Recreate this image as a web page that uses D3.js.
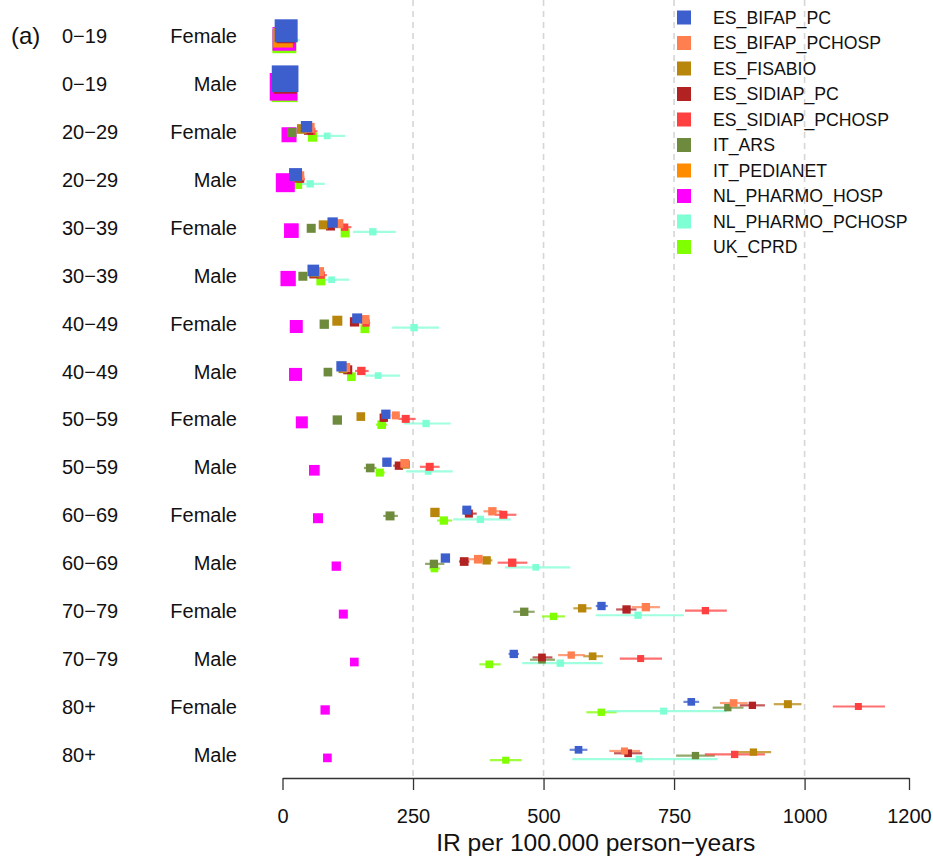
<!DOCTYPE html>
<html>
<head>
<meta charset="utf-8">
<script src="https://cdn.jsdelivr.net/npm/d3@7"></script>
<style>
  body { margin: 0; background: #fff; }
  svg text { font-family: "Liberation Sans", Arial, Helvetica, sans-serif; fill: #111; }
</style>
</head>
<body>
<div id="chart"></div>
<script>
// forest-style plot: IR per 100.000 person-years by age group / sex and data source

// row labels
var ageLabels = ["0−19", "0−19", "20−29", "20−29", "30−39", "30−39", "40−49", "40−49",
                 "50−59", "50−59", "60−69", "60−69", "70−79", "70−79", "80+", "80+"];
var sexLabels = ["Female", "Male", "Female", "Male", "Female", "Male", "Female", "Male",
                 "Female", "Male", "Female", "Male", "Female", "Male", "Female", "Male"];

var sources = ["ES_BIFAP_PC", "ES_BIFAP_PCHOSP", "ES_FISABIO", "ES_SIDIAP_PC", "ES_SIDIAP_PCHOSP",
               "IT_ARS", "IT_PEDIANET", "NL_PHARMO_HOSP", "NL_PHARMO_PCHOSP", "UK_CPRD"];

var xTicks = [0, 250, 500, 750, 1000, 1200];

// each entry: [IR, lower CI, upper CI, weight]  (one entry per row, null = no estimate)
var ES_BIFAP_PC = [
  [7, 5, 9, 69], [5, 3.5, 6.5, 80], [46, 42, 50, 34], [25, 22, 28, 39],
  [96, 91, 101, 31], [59, 55, 63, 35], [143, 137, 149, 30], [113, 108, 118, 31],
  [198, 192, 204, 28], [200, 194, 206, 28], [353, 345, 361, 27], [312, 305, 319, 28],
  [611, 600, 623, 25], [443, 433, 453, 25], [783, 768, 798, 23], [567, 550, 584, 23]];

var ES_BIFAP_PCHOSP = [
  [6, 4, 8, 42], [4, 3, 6, 42], [52, 46, 58, 30], [33, 28, 38, 27],
  [108, 100, 116, 27], [71, 65, 77, 27], [158, 150, 166, 27], [121, 114, 128, 27],
  [217, 209, 225, 24], [234, 226, 242, 26], [402, 385, 420, 25], [375, 356, 394, 26],
  [696, 669, 723, 25], [553, 528, 579, 22], [864, 838, 891, 23], [655, 626, 685, 21]];

var ES_FISABIO = [
  [5, 3, 7, 42], [4, 2, 6, 42], [37, 33, 41, 29], [28, 24, 32, 27],
  [78, 72, 84, 27], [62, 57, 67, 27], [105, 99, 111, 30], [116, 110, 122, 27],
  [150, 144, 156, 26], [236, 229, 243, 25], [292, 285, 300, 28], [391, 380, 402, 25],
  [574, 557, 592, 25], [594, 576, 614, 23], [968, 941, 994, 24], [902, 872, 936, 22]];

var ES_SIDIAP_PC = [
  [6, 4, 8, 54], [5.5, 4, 7, 69], [50, 45, 55, 28], [32, 28, 36, 27],
  [92, 86, 98, 27], [60, 55, 65, 27], [138, 131, 145, 28], [125, 119, 131, 27],
  [194, 187, 201, 25], [223, 212, 237, 25], [357, 348, 372, 24], [348, 338, 358, 26],
  [659, 639, 678, 25], [497, 479, 517, 23], [900, 876, 924, 22], [662, 635, 689, 23]];

var ES_SIDIAP_PCHOSP = [
  [8, 5, 11, 36], [6, 4, 8, 36], [56, 50, 67, 22], [35, 29, 43, 21],
  [119, 110, 132, 22], [74, 67, 85, 22], [160, 152, 168, 22], [151, 139, 165, 25],
  [236, 222, 255, 24], [282, 263, 301, 24], [423, 407, 448, 24], [440, 412, 469, 25],
  [810, 771, 851, 22], [686, 646, 727, 21], [1103, 1054, 1154, 21], [866, 809, 924, 22]];

var IT_ARS = [
  [6, 4, 8, 24], [4, 2, 6, 27], [18, 15, 21, 28], null,
  [55, 50, 59, 27], [39, 35, 42, 27], [80, 75, 86, 28], [87, 82, 93, 26],
  [105, 99, 111, 28], [168, 156, 180, 26], [206, 193, 221, 27], [290, 273, 310, 25],
  [463, 442, 483, 25], [497, 474, 522, 23], [853, 824, 883, 22], [791, 754, 828, 22]];

var IT_PEDIANET = [
  [1, 0, 2, 59], [4, 2, 6, 36], null, null, null, null, null, null,
  null, null, null, null, null, null, null, null];

var NL_PHARMO_HOSP = [
  [3.5, 2, 5, 71], [2, 1, 3, 83], [12.5, 10, 15, 45], [5.4, 4, 7, 57],
  [17, 15, 19, 44], [10.8, 9, 13, 46], [26.4, 24, 29, 39], [25, 22, 28, 39],
  [37, 34, 40, 36], [61, 57, 65, 32], [68, 64, 72, 30], [103, 98, 108, 28],
  [116.5, 111, 122, 27], [137.6, 132, 143, 26], [81.7, 77, 86, 28], [86, 81, 91, 26]];

var NL_PHARMO_PCHOSP = [
  [15, 2, 33, 18], [10, 2, 25, 18], [85.5, 66, 120, 20], [53, 35, 81, 22],
  [173, 135, 217, 22], [94, 68, 128, 20], [252, 210, 300, 22], [183, 158, 225, 20],
  [275, 232, 322, 22], [279, 237, 326, 20], [379, 327, 437, 22], [485, 426, 551, 20],
  [681, 600, 769, 22], [532, 459, 613, 22], [730, 621, 851, 21], [683, 555, 833, 20]];

var UK_CPRD = [
  [3.5, 2, 5, 72], [4, 3, 5, 78], [57.5, 53, 62, 28], [30, 26, 34, 24],
  [120, 114, 127, 27], [73.5, 68, 79, 27], [157.7, 150, 165, 26], [132, 126, 138, 26],
  [190, 179, 200, 26], [186.5, 178, 196, 24], [309, 296, 325, 25], [291, 281, 302, 23],
  [519, 497, 541, 22], [396, 377, 418, 23], [610.5, 582, 640, 22], [427.5, 397, 458, 21]];

var sourceValues = [ES_BIFAP_PC, ES_BIFAP_PCHOSP, ES_FISABIO, ES_SIDIAP_PC, ES_SIDIAP_PCHOSP,
                    IT_ARS, IT_PEDIANET, NL_PHARMO_HOSP, NL_PHARMO_PCHOSP, UK_CPRD];

// colours (R named colours)
var palette = ["#3d5fcd", "#ff7f50", "#b8860b", "#b22222", "#ff4040",
               "#6e8b3d", "#ff8c00", "#ff00ff", "#7fffd4", "#7fff00"];

var width = 933, height = 856;
var margin = {top: 36, right: 24, bottom: 101, left: 282.5};

var svg = d3.select("#chart")
  .append("svg")
    .attr("width", width)
    .attr("height", height);

var x = d3.scaleLinear()
  .domain([0, 1200])
  .range([margin.left, width - margin.right]);

var y = d3.scaleLinear()
  .domain([0, ageLabels.length - 1])
  .range([margin.top, height - margin.bottom]);

// small vertical dodge per data source
var dodge = d3.scaleLinear()
  .domain([0, sources.length - 1])
  .range([-5.2, 5.2]);

var size = d3.scaleLinear()
  .domain([0, 90])
  .range([0, 30]);

var color = d3.scaleOrdinal().domain(sources).range(palette);

var axisY = 778;

// dashed reference lines
svg.append("g")
  .selectAll("line")
  .data(xTicks.filter(function(d) { return d > 0 && d < 1200; }))
  .enter()
  .append("line")
    .attr("x1", function(d) { return x(d); })
    .attr("x2", function(d) { return x(d); })
    .attr("y1", 0)
    .attr("y2", axisY)
    .style("stroke", "#d6d6d6")
    .style("stroke-width", 1.6)
    .style("stroke-dasharray", "6,5");

// x axis
var xAxis = svg.append("g")
  .attr("transform", "translate(0," + axisY + ")")
  .call(d3.axisBottom(x).tickValues(xTicks).tickSize(12).tickSizeOuter(0).tickPadding(19)
        .tickFormat(d3.format("d")));
xAxis.select(".domain").style("stroke", "#333").style("stroke-width", 1.3);
xAxis.selectAll(".tick line").style("stroke", "#333").style("stroke-width", 1.3);
xAxis.selectAll(".tick text")
  .style("font-size", "20px")
  .style("font-family", "'Liberation Sans', Arial, sans-serif")
  .attr("fill", "#111");

svg.append("text")
  .attr("x", (x(0) + x(1200)) / 2)
  .attr("y", 851)
  .attr("text-anchor", "middle")
  .style("font-size", "24.6px")
  .text("IR per 100.000 person−years");

// panel tag and row labels
svg.append("text")
  .attr("x", 11)
  .attr("y", y(0) + 8)
  .style("font-size", "24px")
  .text("(a)");

svg.append("g")
  .selectAll("text")
  .data(ageLabels)
  .enter()
  .append("text")
    .attr("x", 62)
    .attr("y", function(d, i) { return y(i) + 7; })
    .style("font-size", "20px")
    .text(function(d) { return d; });

svg.append("g")
  .selectAll("text")
  .data(sexLabels)
  .enter()
  .append("text")
    .attr("x", 237)
    .attr("y", function(d, i) { return y(i) + 7; })
    .attr("text-anchor", "end")
    .style("font-size", "20px")
    .text(function(d) { return d; });

// flatten into points; later sources drawn first so ES_BIFAP_PC ends on top
var points = [];
sourceValues.forEach(function(vals, s) {
  vals.forEach(function(v, r) {
    if (v) points.push({source: sources[s], s: s, row: r, ir: v[0], lo: v[1], hi: v[2], w: v[3]});
  });
});
points.sort(function(a, b) { return b.s - a.s; });

var py = function(d) { return y(d.row) + dodge(d.s); };

// confidence intervals
svg.append("g")
  .selectAll("line")
  .data(points)
  .enter()
  .append("line")
    .attr("x1", function(d) { return x(d.lo); })
    .attr("x2", function(d) { return x(d.hi); })
    .attr("y1", py)
    .attr("y2", py)
    .style("stroke", function(d) { return color(d.source); })
    .style("stroke-width", 2.2)
    .style("opacity", 0.75);

// point estimates
svg.append("g")
  .selectAll("rect")
  .data(points)
  .enter()
  .append("rect")
    .attr("x", function(d) { return x(d.ir) - size(d.w) / 2; })
    .attr("y", function(d) { return py(d) - size(d.w) / 2; })
    .attr("width", function(d) { return size(d.w); })
    .attr("height", function(d) { return size(d.w); })
    .style("fill", function(d) { return color(d.source); });

// legend
var legend = svg.append("g")
  .selectAll("g")
  .data(sources)
  .enter()
  .append("g")
    .attr("transform", function(d, i) { return "translate(684," + (17.5 + i * 25.5) + ")"; });

legend.append("rect")
  .attr("x", -7)
  .attr("y", -7)
  .attr("width", 14)
  .attr("height", 14)
  .style("fill", function(d) { return color(d); });

legend.append("text")
  .attr("x", 29)
  .attr("y", 6)
  .style("font-size", "17.7px")
  .text(function(d) { return d; });
</script>
</body>
</html>
